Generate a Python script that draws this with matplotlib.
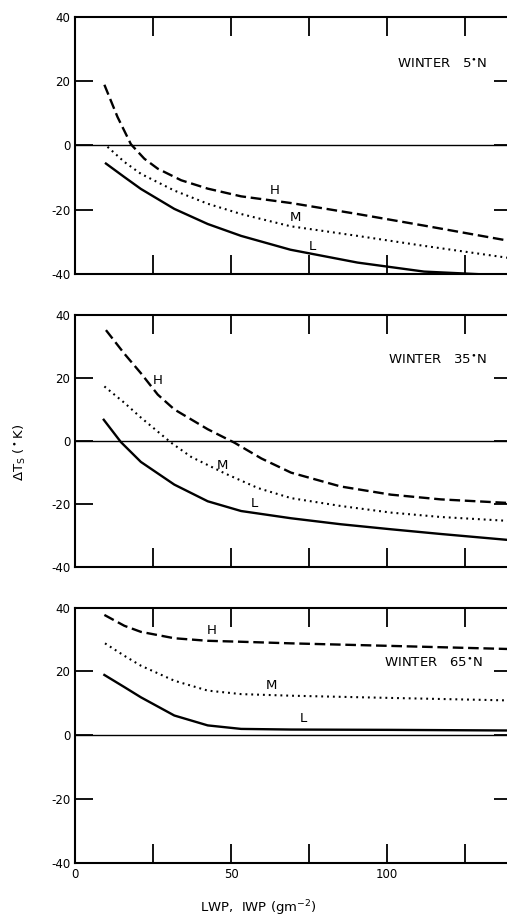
import matplotlib
matplotlib.use('Agg')
import matplotlib.pyplot as plt

plt.rcParams['axes.unicode_minus'] = False
plt.rcParams['font.family'] = 'DejaVu Sans'

# values: (LWP, dTs) for the H, M, L cloud curves in each panel
panel_titles = ['WINTER   5$^{\\bullet}$N', 'WINTER   35$^{\\bullet}$N', 'WINTER   65$^{\\bullet}$N']

h5_x = [9.4, 13.6, 17.9, 22.2, 26.5, 34.0, 42.5, 53.2, 69.3, 90.5, 111.8, 140]
h5_y = [18.8, 8.8, 0.3, -4.2, -7.3, -10.9, -13.5, -15.9, -18.0, -21.4, -25.0, -29.9]
m5_x = [10.4, 15.8, 21.1, 31.8, 42.5, 53.2, 69.0, 90.5, 111.8, 140]
m5_y = [-0.5, -5.2, -8.9, -14.1, -18.2, -21.4, -25.2, -28.2, -31.3, -35.2]
l5_x = [9.9, 15.8, 21.1, 31.8, 42.5, 53.2, 69.0, 90.5, 111.8, 140]
l5_y = [-5.7, -9.9, -13.6, -19.8, -24.5, -28.2, -32.5, -36.5, -39.3, -40.6]

h35_x = [9.9, 15.8, 21.1, 26.5, 31.8, 42.5, 51.1, 59.7, 69.2, 85.1, 101.2, 117.2, 140]
h35_y = [35.3, 27.8, 21.6, 14.8, 10.1, 3.8, -0.5, -5.5, -10.0, -14.4, -17.0, -18.5, -19.7]
m35_x = [9.4, 15.8, 21.1, 30.8, 37.2, 47.9, 58.6, 69.2, 85.1, 101.2, 117.2, 140]
m35_y = [17.4, 12.2, 7.5, -0.5, -5.0, -10.2, -14.9, -18.1, -20.6, -22.7, -24.1, -25.4]
l35_x = [9.2, 14.7, 21.1, 31.8, 42.5, 53.2, 69.2, 85.1, 101.2, 117.2, 140]
l35_y = [6.8, -0.3, -6.6, -13.8, -19.1, -22.2, -24.5, -26.4, -28.0, -29.5, -31.5]

h65_x = [9.4, 15.8, 21.1, 31.8, 42.5, 53.2, 69.2, 101.2, 140]
h65_y = [37.7, 34.3, 32.4, 30.4, 29.6, 29.3, 28.8, 28.0, 27.0]
m65_x = [9.6, 15.8, 21.1, 31.8, 42.5, 53.2, 69.2, 101.2, 140]
m65_y = [28.8, 24.9, 21.8, 17.1, 14.0, 12.9, 12.4, 11.7, 10.9]
l65_x = [9.4, 15.8, 21.1, 31.8, 42.5, 53.2, 69.2, 101.2, 140]
l65_y = [18.9, 15.1, 11.9, 6.2, 3.1, 2.0, 1.8, 1.7, 1.5]

curves = [
    [(h5_x, h5_y), (m5_x, m5_y), (l5_x, l5_y)],
    [(h35_x, h35_y), (m35_x, m35_y), (l35_x, l35_y)],
    [(h65_x, h65_y), (m65_x, m65_y), (l65_x, l65_y)],
]
# where the H, M, L letters sit
label_pos = [
    [(63.9, -14.1), (70.7, -22.4), (76.0, -31.6)],
    [(26.5, 19.3), (47.3, -7.8), (57.5, -19.9)],
    [(43.9, 32.7), (62.9, 15.6), (73.3, 5.2)],
]
title_y = [25, 25.7, 22.5]
title_x = [132, 132, 130.5]

styles = [
    dict(linestyle=(0, (4.5, 2.0)), linewidth=1.7),
    dict(linestyle=(0, (0.9, 1.9)), linewidth=1.5),
    dict(linestyle='-', linewidth=1.7),
]
names = ['H', 'M', 'L']

fig = plt.figure(figsize=(5.07, 9.22), dpi=100)
positions = [
    [0.148, 0.703, 0.862, 0.279],
    [0.148, 0.385, 0.862, 0.273],
    [0.148, 0.064, 0.862, 0.277],
]

for i, pos in enumerate(positions):
    ax = fig.add_axes(pos)
    ax.set_xlim(0, 140)
    ax.set_ylim(-40, 40)
    for sp in ax.spines.values():
        sp.set_linewidth(1.5)
    ax.axhline(0, color='black', linewidth=1.0)

    for (x, y), st in zip(curves[i], styles):
        ax.plot(x, y, color='black', **st)
    for (lx, ly), n in zip(label_pos[i], names):
        ax.text(lx, ly, n, fontsize=9.5, ha='center', va='center')
    ax.text(title_x[i], title_y[i], panel_titles[i], fontsize=9.5, ha='right', va='center')

    ax.set_yticks([-40, -20, 0, 20, 40])
    ax.set_xticks([25, 50, 75, 100, 125])
    ax.tick_params(axis='both', direction='in', length=14, width=1.3,
                   top=True, right=True, labelsize=8.5)
    ax.tick_params(axis='y', length=13)
    if i == 2:
        ax.set_xticks([0, 25, 50, 75, 100, 125])
        ax.set_xticklabels(['0', '', '50', '', '100', ''])
    else:
        ax.set_xticklabels([])

fig.text(0.04, 0.51, '$\\Delta$T$_\\mathrm{S}$ ($^\\bullet$K)', rotation=90,
         fontsize=9.5, ha='center', va='center')
fig.text(0.51, 0.015, 'LWP,  IWP (gm$^{-2}$)', fontsize=9.5, ha='center', va='center')

fig.savefig('out.png', dpi=100)
